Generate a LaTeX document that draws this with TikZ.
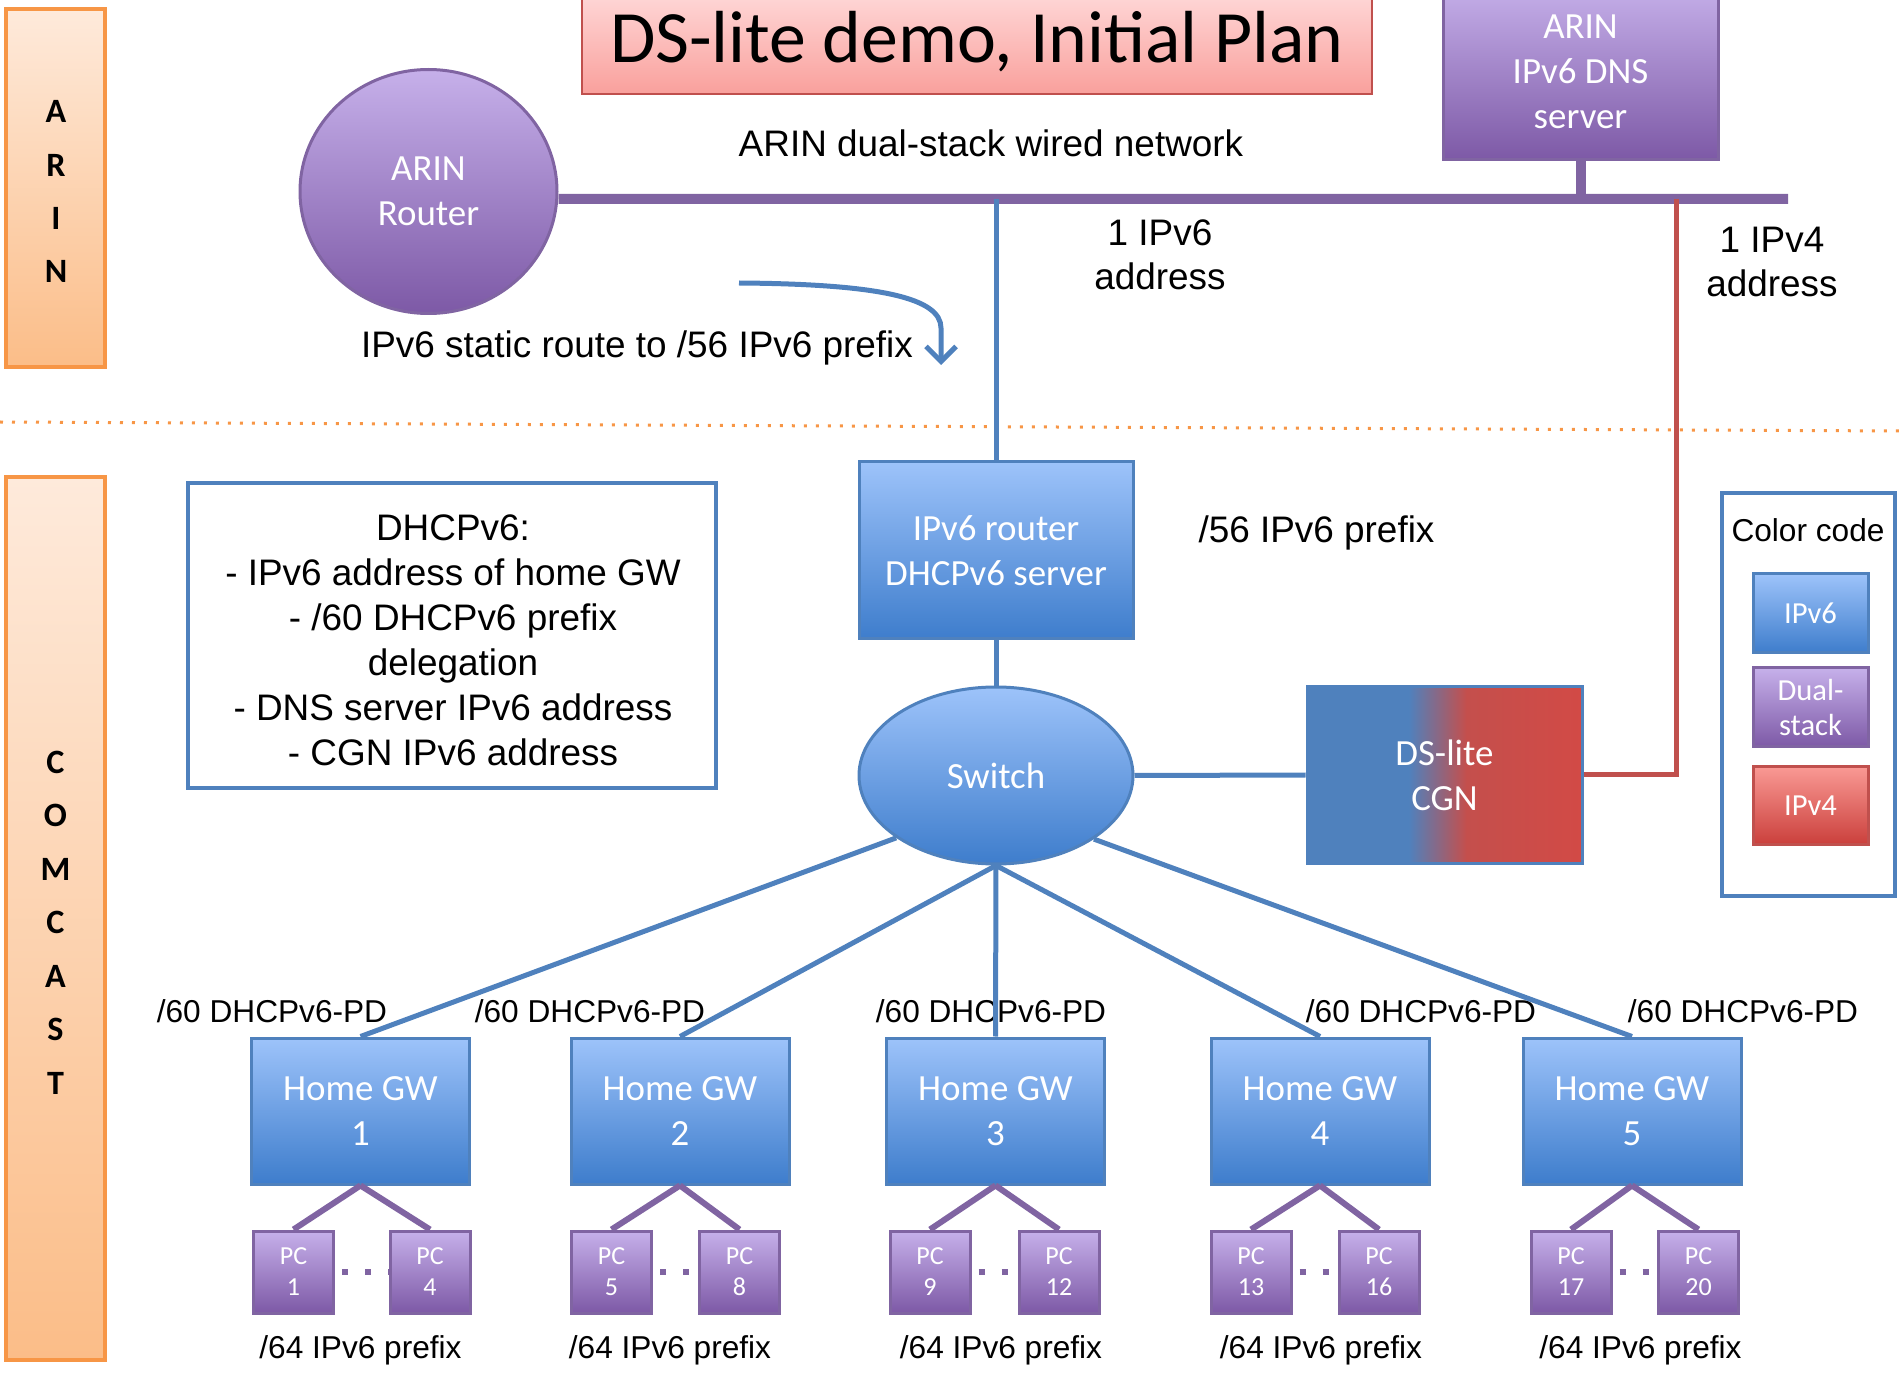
\documentclass[tikz,border=0pt]{standalone}
\usepackage{fontspec}
\setmainfont{Liberation Sans}
\newfontfamily\calib{Carlito}
\usetikzlibrary{arrows.meta,shapes.geometric}
\definecolor{cblue}{HTML}{4F81BD}
\definecolor{cpurple}{HTML}{8064A2}
\definecolor{cred}{HTML}{C0504D}
\definecolor{corange}{HTML}{F79646}
\definecolor{bluetop}{HTML}{9DC3FA}
\definecolor{bluebot}{HTML}{3E7DCC}
\definecolor{purtop}{HTML}{C6B0EA}
\definecolor{purbot}{HTML}{7D59A6}
\definecolor{redtop}{HTML}{FA9A95}
\definecolor{redbot}{HTML}{CA3F3B}
\definecolor{titletop}{HTML}{FFD9D9}
\definecolor{titlebot}{HTML}{F9A09C}
\definecolor{orgtop}{HTML}{FEEADB}
\definecolor{orgbot}{HTML}{FBBD88}
\definecolor{cgnB}{HTML}{4F81BD}
\definecolor{cgnR}{HTML}{C44F4C}
\definecolor{cgnRR}{HTML}{D24A46}
\pgfdeclarehorizontalshading{cgnshade}{100bp}{color(0bp)=(cgnB); color(43.5bp)=(cgnB); color(54bp)=(cgnR); color(75bp)=(cgnRR); color(100bp)=(cgnRR)}
\tikzset{
  lbl/.style={font=\fontsize{10.5}{12.8}\selectfont, align=center, anchor=base, inner sep=0pt},
  slbl/.style={font=\fontsize{9}{10.8}\selectfont, anchor=base, inner sep=0pt},
  wtxt/.style={text=white, font=\calib\fontsize{10.5}{12.8}\selectfont, align=center, inner sep=0pt},
  bluebox/.style={wtxt, rectangle, draw=cblue, line width=0.3mm, top color=bluetop, bottom color=bluebot},
  purbox/.style={wtxt, rectangle, draw=cpurple, line width=0.3mm, top color=purtop, bottom color=purbot},
  redbox/.style={wtxt, rectangle, draw=cred, line width=0.3mm, top color=redtop, bottom color=redbot},
  gwbox/.style={bluebox, minimum width=21.8mm, minimum height=14.6mm},
  pcbox/.style={purbox, minimum width=8mm, minimum height=8.2mm, font=\calib\fontsize{7.4}{8.8}\selectfont},
  legbox/.style={minimum width=11.5mm, minimum height=7.9mm, font=\calib\fontsize{8.7}{10}\selectfont},
  barbox/.style={rectangle, draw=corange, line width=0.35mm, top color=orgtop, bottom color=orgbot, minimum width=9.9mm},
  barlbl/.style={font=\calib\bfseries\fontsize{9.7}{15.2}\selectfont, align=center, anchor=base, inner sep=0pt},
  bus/.style={draw=cpurple, line width=1mm},
  blueline/.style={draw=cblue, line width=0.5mm},
  redline/.style={draw=cred, line width=0.5mm},
  purline/.style={draw=cpurple, line width=0.6mm},
  dotline/.style={draw=cpurple, line width=0.6mm, dash pattern=on 0.6mm off 1.7mm, dash phase=1.6mm},
}
\begin{document}
\begin{tikzpicture}[x=0.1mm,y=-0.1mm]
\useasboundingbox (0,0) rectangle (1902,1373);
\clip (0,0) rectangle (1902,1373);

% separator
\draw[corange, line width=0.3mm, dash pattern=on 0.3mm off 0.9mm] (0,422) -- (1902,431);

% side bars (multi-line labels are placed at the baseline of their last line)
\node[barbox, minimum height=35.8mm] (arinbar) at (55.5,188) {};
\node[barlbl] (arintxt) at (56,283) {A\\R\\I\\N};
\node[barbox, minimum height=88.3mm] (combar) at (55.5,918.5) {};
\node[barlbl] (comtxt) at (55.5,1094) {C\\O\\M\\C\\A\\S\\T};

% title
\node[rectangle, draw=cred, line width=0.25mm, top color=titletop, bottom color=titlebot,
      minimum width=79mm, minimum height=10.4mm, inner sep=0pt,
      font=\calib\fontsize{21}{24}\selectfont] (title) at (977,42) {DS-lite demo, Initial Plan};

% ARIN elements
\node[purbox, ellipse, minimum width=25.7mm, minimum height=24.4mm] (router) at (428.5,191.5) {ARIN\\Router};
\node[purbox, minimum width=27.5mm, minimum height=17.6mm] (dns) at (1580.5,72) {ARIN\\IPv6 DNS\\server};

% Comcast core
\node[bluebox, minimum width=27.4mm, minimum height=17.7mm] (v6r) at (996,550.5) {IPv6 router\\DHCPv6 server};
\node[bluebox, ellipse, minimum width=27.4mm, minimum height=17.7mm] (sw) at (996,775.5) {Switch};
\node[wtxt, rectangle, draw=cblue, line width=0.3mm, shading=cgnshade,
      minimum width=27.5mm, minimum height=17.8mm] (cgn) at (1444.5,775) {DS-lite\\CGN};

% DHCPv6 info box
\node[rectangle, draw=cblue, line width=0.45mm, fill=white, minimum width=52.8mm, minimum height=30.5mm] (dhcp) at (452,635.5) {};
\node[lbl] (dhcptxt) at (453,765)
      {DHCPv6:\\- IPv6 address of home GW\\- /60 DHCPv6 prefix\\delegation\\- DNS server IPv6 address\\- CGN IPv6 address};

% colour code
\node[rectangle, draw=cblue, line width=0.45mm, minimum width=17.3mm, minimum height=40.3mm] (legend) at (1808.5,694.5) {};
\node[slbl] (cclbl) at (1808,542) {Color code};
\node[bluebox, legbox] (legv6) at (1810.5,613.5) {IPv6};
\node[purbox, legbox] (legds) at (1810.5,707.5) {Dual-\\stack};
\node[redbox, legbox] (legv4) at (1810.5,805.5) {IPv4};

% home gateways
\node[gwbox] (gw1) at (360.5,1111) {Home GW\\1};
\node[gwbox] (gw2) at (680,1111) {Home GW\\2};
\node[gwbox] (gw3) at (995.5,1111) {Home GW\\3};
\node[gwbox] (gw4) at (1320,1111) {Home GW\\4};
\node[gwbox] (gw5) at (1632,1111) {Home GW\\5};

% PCs
\node[pcbox] (pc1) at (293.5,1272) {PC\\1};
\node[pcbox] (pc4) at (430,1272) {PC\\4};
\node[pcbox] (pc5) at (611.5,1272) {PC\\5};
\node[pcbox] (pc8) at (739.5,1272) {PC\\8};
\node[pcbox] (pc9) at (930,1272) {PC\\9};
\node[pcbox] (pc12) at (1059,1272) {PC\\12};
\node[pcbox] (pc13) at (1251,1272) {PC\\13};
\node[pcbox] (pc16) at (1379,1272) {PC\\16};
\node[pcbox] (pc17) at (1571,1272) {PC\\17};
\node[pcbox] (pc20) at (1698.5,1272) {PC\\20};

% labels
\node[lbl] (netlbl) at (991,157) {ARIN dual-stack wired network};
\node[lbl] (v6addr) at (1160,290) {1 IPv6\\address};
\node[lbl] (v4addr) at (1772,297) {1 IPv4\\address};
\node[lbl] (routelbl) at (637,358) {IPv6 static route to /56 IPv6 prefix};
\node[lbl] (pfx56) at (1316.5,543) {/56 IPv6 prefix};
\node[slbl] (pd1) at (272,1022) {/60 DHCPv6-PD};
\node[slbl] (pd2) at (590,1022) {/60 DHCPv6-PD};
\node[slbl] (pd3) at (991,1022) {/60 DHCPv6-PD};
\node[slbl] (pd4) at (1421,1022) {/60 DHCPv6-PD};
\node[slbl] (pd5) at (1743,1022) {/60 DHCPv6-PD};
\node[slbl] (px1) at (360.5,1358) {/64 IPv6 prefix};
\node[slbl] (px2) at (670,1358) {/64 IPv6 prefix};
\node[slbl] (px3) at (1001,1358) {/64 IPv6 prefix};
\node[slbl] (px4) at (1321,1358) {/64 IPv6 prefix};
\node[slbl] (px5) at (1640.5,1358) {/64 IPv6 prefix};

% bus and uplinks
\coordinate (busR) at (1788,199);
\coordinate (redtop) at (1676,199);
\draw[bus] ([yshift=-0.75mm]router.east) -- (busR);
\draw[bus] (dns.south) -- (dns.south |- busR);
\draw[blueline] (v6r.north |- busR) -- (v6r.north);
\draw[redline] (cgn.east) -| (redtop);
\draw[blueline] (v6r.south) -- (sw.north);
\draw[blueline] (sw.east) -- (cgn.west);

% static route arrow
\coordinate (arrS) at (739,283);
\coordinate (arrE) at (941,365);
\draw[blueline, -{Straight Barb[length=1.5mm,width=3mm]}] (arrS) .. controls (880,284) and (941,298) .. (941,328) -- (arrE);

% switch to gateways
\draw[blueline] (sw.212.6) -- (gw1.north);
\draw[blueline] (sw.south) -- (gw2.north);
\draw[blueline] (sw.south) -- (gw3.north);
\draw[blueline] (sw.south) -- (gw4.north);
\draw[blueline] (sw.327.4) -- (gw5.north);

% gateways to PCs
\foreach \g/\a/\b in {gw1/pc1/pc4, gw2/pc5/pc8, gw3/pc9/pc12, gw4/pc13/pc16, gw5/pc17/pc20}{
  \draw[purline] (\g.south) -- (\a.north);
  \draw[purline] (\g.south) -- (\b.north);
  \draw[dotline] (\a.east) -- (\b.west);
}
\end{tikzpicture}
\end{document}
